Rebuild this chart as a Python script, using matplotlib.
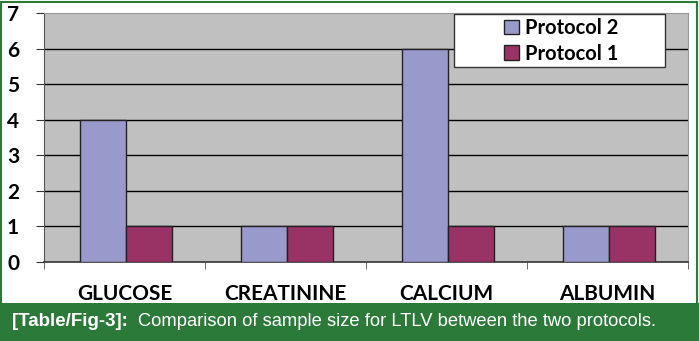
import numpy as np
import matplotlib.pyplot as plt
from matplotlib.patches import Rectangle, Patch

categories = ['GLUCOSE', 'CREATININE', 'CALCIUM', 'ALBUMIN']
protocol2 = [4, 1, 6, 1]
protocol1 = [1, 1, 1, 1]
yticks = [0, 1, 2, 3, 4, 5, 6, 7]

W, H = 699, 341
col_p2 = '#9999cc'
col_p1 = '#993366'
bg_gray = '#c0c0c0'
green = '#2c7a3a'

fig = plt.figure(figsize=(W / 100, H / 100), dpi=100)
fig.patch.set_facecolor('white')

# caption band + green frame
fig.patches.append(Rectangle((0, 0), 1, 38 / H, transform=fig.transFigure,
                             facecolor=green, edgecolor='none', zorder=0))
fig.patches.append(Rectangle((1 / W, 1 / H), 1 - 3 / W, 1 - 3 / H,
                             transform=fig.transFigure, facecolor='none',
                             edgecolor=green, lw=1.5, zorder=5))

ax = fig.add_axes([44 / W, (H - 262) / H, 644 / W, 249 / H])
ax.set_facecolor(bg_gray)

x = np.arange(len(categories))
bw = 0.285
ax.bar(x - bw / 2 + 0.01, protocol2, bw, color=col_p2, edgecolor='#222222',
       lw=1, zorder=3, label='Protocol 2')
ax.bar(x + bw / 2 + 0.01, protocol1, bw, color=col_p1, edgecolor='#222222',
       lw=1, zorder=3, label='Protocol 1')

ax.set_xlim(-0.5, len(categories) - 0.5)
ax.set_ylim(0, 7)
ax.set_yticks(yticks)
ax.set_yticklabels([str(v) for v in yticks], fontfamily='Lato',
                   fontweight='bold', fontsize=15)
for v in yticks[1:-1]:
    ax.axhline(v, color='black', lw=1, zorder=1)

ax.set_xticks(np.arange(len(categories) + 1) - 0.5, minor=True)
ax.set_xticks(x)
ax.set_xticklabels(categories, fontfamily='Lato', fontweight='bold', fontsize=15)
ax.tick_params(axis='x', which='major', length=0, pad=16)
ax.tick_params(axis='x', which='minor', length=5, color='#555555', direction='out')
ax.tick_params(axis='y', length=6, color='#333333', pad=12)

for s in ['top', 'right']:
    ax.spines[s].set_color('#999999')
ax.spines['left'].set_color('#555555')
ax.spines['bottom'].set_color('#333333')
ax.spines['bottom'].set_linewidth(1.2)

# legend box (white, wider than its entries like the original)
ax.add_patch(Rectangle((454 / W, (H - 67) / H), 211 / W, 53 / H,
                       transform=fig.transFigure, facecolor='white',
                       edgecolor='#333333', lw=1, zorder=8, clip_on=False))
handles = [Patch(facecolor=col_p2, edgecolor='#222222', label='Protocol 2'),
           Patch(facecolor=col_p1, edgecolor='#222222', label='Protocol 1')]
leg = ax.legend(handles=handles, loc='upper left',
                bbox_to_anchor=(502 / W, (H - 16) / H), bbox_transform=fig.transFigure,
                prop={'family': 'Lato', 'weight': 'bold', 'size': 14.5},
                frameon=False, handlelength=0.75, handleheight=0.75,
                handletextpad=0.3, labelspacing=0.28, borderpad=0.1,
                borderaxespad=0)
leg.set_zorder(10)

# caption
fig.text(12 / W, 20 / H, '[Table/Fig-3]:', color='white', fontweight='bold',
         fontsize=13.5, fontfamily='Liberation Sans', va='center', ha='left')
fig.text(138 / W, 20 / H, 'Comparison of sample size for LTLV between the two protocols.',
         color='white', fontsize=13.2, fontfamily='Liberation Sans',
         va='center', ha='left')

fig.savefig('out.png', dpi=100)
